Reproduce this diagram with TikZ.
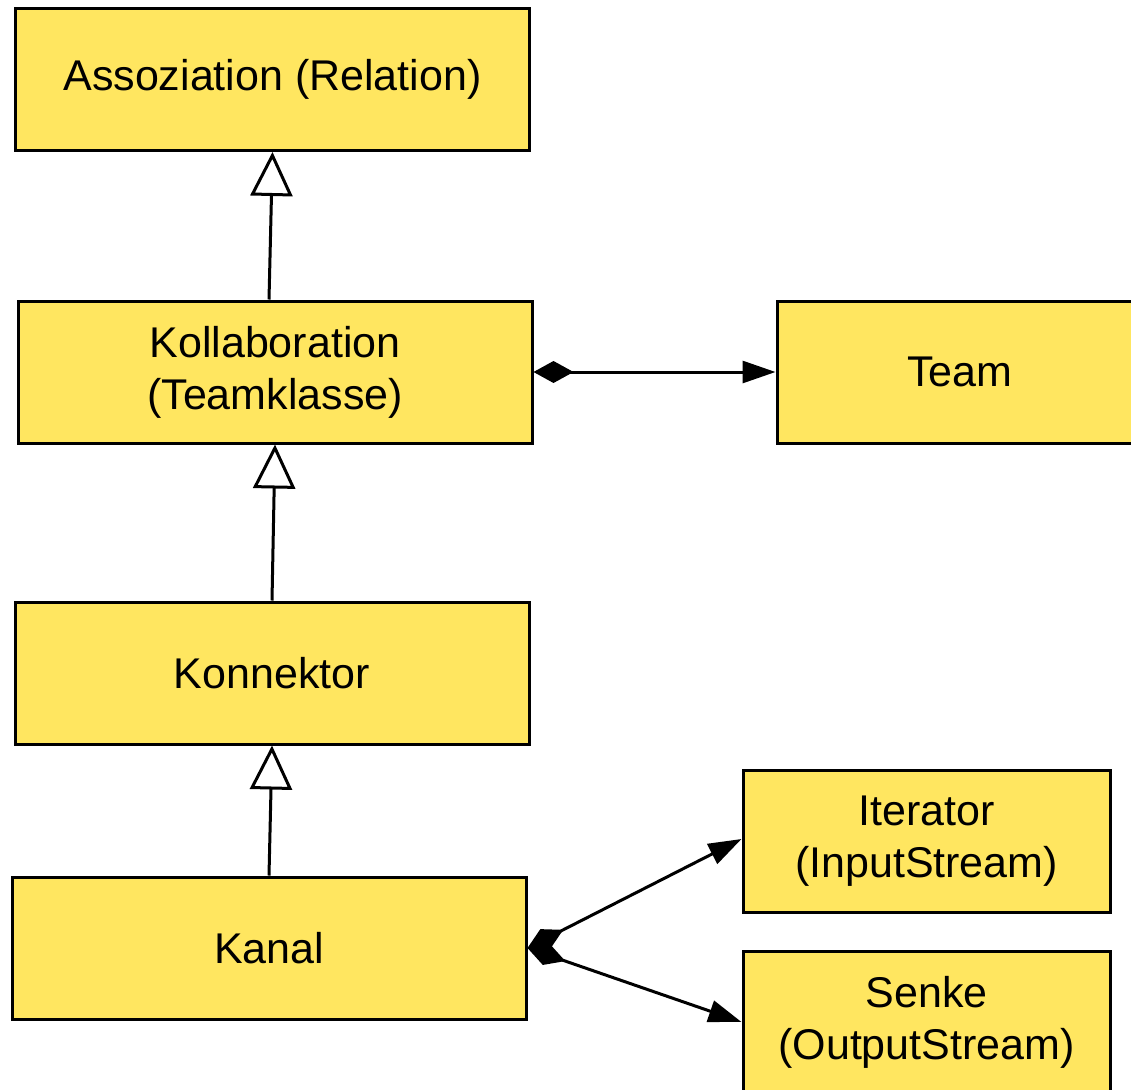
\documentclass[tikz,border=0pt]{standalone}
\usepackage{fontspec}
\setmainfont{Liberation Sans}
\usetikzlibrary{arrows.meta}
\definecolor{classfill}{RGB}{255,230,96}
\begin{document}
\begin{tikzpicture}[x=1pt,y=-1pt,
  cls/.style={draw=black, line width=3pt, fill=classfill, align=center,
    inner sep=0pt, minimum height=142pt,
    font=\fontsize{43}{52}\selectfont},
  wide/.style={minimum width=514pt},
  narrow/.style={minimum width=367pt},
  gen/.style={line width=3pt, -{Triangle[open,length=44pt,width=42pt,line width=3pt]}},
  comp/.style={line width=3pt, {Diamond[length=40pt,width=22pt]}-{Triangle[length=33pt,width=22pt]}}]
\useasboundingbox (0,0) rectangle (1131,1089);
\node[cls,wide] (assoz) at (272.5,79.5) {Assoziation (Relation)};
\node[cls,wide] (koll) at (275,372) {Kollaboration\\(Teamklasse)};
\node[cls,minimum width=366pt] (team) at (960,372) {Team};
\node[cls,wide] (konn) at (272,673) {Konnektor};
\node[cls,wide] (kanal) at (269,948) {Kanal};
\node[cls,narrow] (iter) at (926.5,841) {Iterator\\(InputStream)};
\node[cls,narrow] (senke) at (926.5,1022) {Senke\\(OutputStream)};
% generalisation
\draw[gen] ([xshift=-6pt]koll.north) -- (assoz.south);
\draw[gen] (konn.north) -- (koll.south);
\draw[gen] (kanal.north) -- (konn.south);
% composition
\draw[comp] (koll.east) -- (team.west);
\draw[comp] (kanal.east) -- ([yshift=2pt]iter.west);
\draw[comp] (kanal.east) -- (senke.west);
\end{tikzpicture}
\end{document}
